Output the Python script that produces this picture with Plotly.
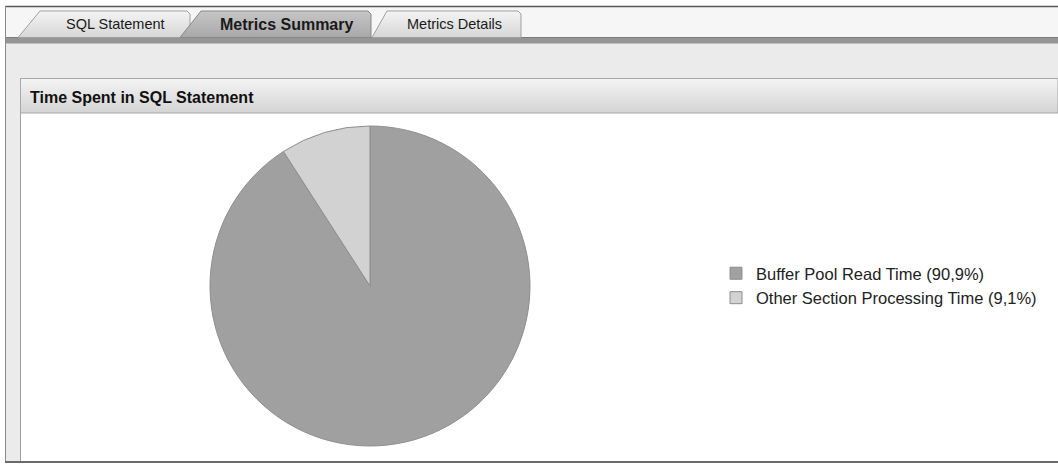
import plotly.graph_objects as go

# ---- data ----
categories = ["Buffer Pool Read Time", "Other Section Processing Time"]
shares = [90.9, 9.1]
share_labels = ["90,9%", "9,1%"]
slice_colors = ["#a0a0a0", "#d2d2d2"]

tab_labels = ["SQL Statement", "Metrics Summary", "Metrics Details"]
panel_title = "Time Spent in SQL Statement"

W, H = 1058, 464
FONT = "Liberation Sans, Arial, sans-serif"

legend_labels = [f"{c} ({p})" for c, p in zip(categories, share_labels)]

fig = go.Figure()

# invisible pixel-coordinate axes for UI chrome
fig.update_layout(
    xaxis=dict(range=[0, W], visible=False, fixedrange=True, domain=[0, 1]),
    yaxis=dict(range=[H, 0], visible=False, fixedrange=True, domain=[0, 1]),
)

shapes = []
def rect(x0, y0, x1, y1, fill, line=None, lw=0):
    shapes.append(dict(type="rect", xref="x", yref="y", x0=x0, y0=y0, x1=x1, y1=y1,
                       fillcolor=fill, line=dict(color=line or fill, width=lw), layer="below"))
def hline(x0, x1, y, color, w=1):
    shapes.append(dict(type="line", xref="x", yref="y", x0=x0, x1=x1, y0=y, y1=y,
                       line=dict(color=color, width=w), layer="below"))
def vline(x, y0, y1, color, w=1):
    shapes.append(dict(type="line", xref="x", yref="y", x0=x, x1=x, y0=y0, y1=y1,
                       line=dict(color=color, width=w), layer="below"))

# tab strip background
rect(5, 6, W, 38, "#f6f6f6")
hline(5, W, 6.5, "#5a5a5a", 1.5)
# area under tabs
rect(5, 43, W, 462, "#ebebeb")
# dark bar under tabs
rect(5, 37, W, 43.5, "#959595")
hline(5, W, 37.5, "#7c7c7c", 1)
# left outer border
vline(5.5, 6, 462, "#8a8a8a", 1)
# panel content
rect(20, 113, W, 461, "#ffffff")
vline(20.5, 78, 461, "#a0a0a0", 1)
hline(5, W, 462, "#6a6a6a", 2)


def grad_poly(xs, ys, c_top, c_bot, outline):
    fig.add_trace(go.Scatter(
        x=xs + [xs[0]], y=ys + [ys[0]], mode="lines", fill="toself",
        line=dict(color=outline, width=1),
        fillgradient=dict(type="vertical", colorscale=[[0, c_top], [1, c_bot]],
                          start=min(ys), stop=max(ys)),
        hoverinfo="skip", showlegend=False))

# header bar with gradient
grad_poly([20.5, W, W, 20.5], [78.5, 78.5, 113, 113], "#f4f4f4", "#d4d4d4", "#a8a8a8")

# tabs (inactive first, active last)
tab_geo = [
    (18, 40, 187, 190),
    (180, 201, 368, 371),
    (372, 387, 518, 521),
]
order = [0, 2, 1]
for i in order:
    xb, xt, xr, xre = tab_geo[i]
    xs = [xb, xt, xr, xre, xre]
    ys = [37.5, 11, 11, 14, 37.5]
    if i == 1:
        grad_poly(xs, ys, "#c6c6c6", "#a8a8a8", "#888888")
    else:
        grad_poly(xs, ys, "#f4f4f4", "#d6d6d6", "#a0a0a0")

annotations = []
tab_centers = [115, 286, 454]
for i, (lab, cx) in enumerate(zip(tab_labels, tab_centers)):
    annotations.append(dict(
        x=cx, y=24, xref="x", yref="y", text=f"<b>{lab}</b>" if i == 1 else lab,
        showarrow=False, xanchor="center", yanchor="middle",
        font=dict(family=FONT, size=16 if i == 1 else 14.5, color="#1a1a1a")))
annotations.append(dict(
    x=28, y=97, xref="x", yref="y", text=f"<b>{panel_title}</b>", showarrow=False,
    xanchor="left", yanchor="middle", font=dict(family=FONT, size=16, color="#111111")))

# pie
cx, cy, r = 370, 286, 160
fig.add_trace(go.Pie(
    labels=legend_labels, values=shares, sort=False, direction="clockwise", rotation=0,
    marker=dict(colors=slice_colors, line=dict(color="#8e8e8e", width=1)),
    textinfo="none", hoverinfo="label+percent",
    domain=dict(x=[(cx - r) / W, (cx + r) / W], y=[1 - (cy + r) / H, 1 - (cy - r) / H]),
))

fig.update_layout(
    width=W, height=H, margin=dict(l=0, r=0, t=0, b=0),
    paper_bgcolor="#ffffff", plot_bgcolor="rgba(0,0,0,0)",
    shapes=shapes, annotations=annotations, showlegend=True,
    legend=dict(x=716 / W, y=1 - 256 / H, xanchor="left", yanchor="top",
                bgcolor="rgba(0,0,0,0)", font=dict(family=FONT, size=16.5, color="#222222"),
                tracegroupgap=0),
)

fig.write_html("out.html", config={"displayModeBar": False},
               post_script="document.body.style.margin='0px';")
